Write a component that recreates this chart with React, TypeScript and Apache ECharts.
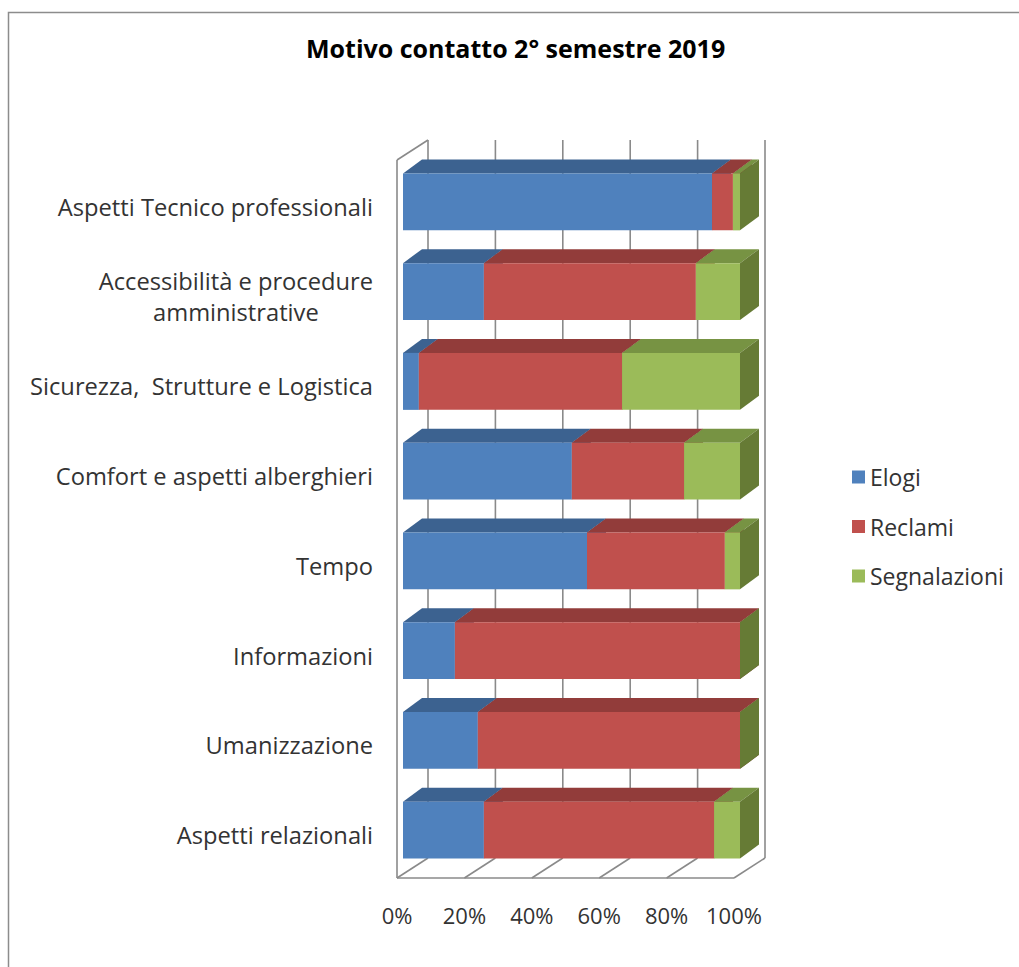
import React, { useEffect, useRef } from "react";
import * as echarts from "echarts";

const categories = [
  "Aspetti Tecnico professionali",
  "Accessibilità e procedure\namministrative",
  "Sicurezza,  Strutture e Logistica",
  "Comfort e aspetti alberghieri",
  "Tempo",
  "Informazioni",
  "Umanizzazione",
  "Aspetti relazionali",
];
const seriesNames = ["Elogi", "Reclami", "Segnalazioni"];
const elogi = [91.7, 24.0, 4.7, 50.1, 54.6, 15.4, 22.2, 24.0];
const reclami = [6.2, 62.9, 60.3, 33.3, 40.9, 84.6, 77.8, 68.3];
const segnalazioni = [2.1, 13.1, 35.0, 16.6, 4.5, 0, 0, 7.7];
const xTicks = [0, 20, 40, 60, 80, 100];

const frontColors = ["#4F81BD", "#C0504D", "#9BBB59"];
const topColors = ["#3C6290", "#923C3A", "#779343"];
const sideColors = ["#385B86", "#883735", "#667B35"];

const FONT = "'Open Sans', 'Noto Sans', sans-serif";
const TEXT_COLOR = "#333333";
const GRID_COLOR = "#8a8a8a";
const BAR_DX = 19;
const BAR_DY = -14;

export default function App() {
  const ref = useRef<HTMLDivElement>(null);

  useEffect(() => {
    document.body.style.margin = "0";
    const chart = echarts.init(ref.current!, null, { renderer: "svg" });

    const layers = [elogi, reclami, segnalazioni];
    const cum = categories.map(() => 0);
    const barSeries = layers.map((vals, si) => {
      const data = vals.map((v, ci) => {
        const s = cum[ci];
        cum[ci] = s + v;
        return [s, s + v, ci];
      });
      return {
        name: seriesNames[si],
        type: "custom",
        itemStyle: { color: frontColors[si] },
        encode: { x: [0, 1], y: 2 },
        data,
        renderItem: (params: any, api: any) => {
          const start = api.value(0);
          const end = api.value(1);
          const cat = api.value(2);
          const p0 = api.coord([start, cat]);
          const p1 = api.coord([end, cat]);
          const band = api.size([0, 1])[1];
          const h = band * 0.635;
          const top = p0[1] - h / 2;
          const bot = p0[1] + h / 2;
          const x0 = p0[0];
          const x1 = p1[0];
          return {
            type: "group",
            children: [
              {
                type: "polygon",
                shape: {
                  points: [
                    [x0, top],
                    [x1, top],
                    [x1 + BAR_DX, top + BAR_DY],
                    [x0 + BAR_DX, top + BAR_DY],
                  ],
                },
                style: { fill: topColors[si] },
              },
              {
                type: "polygon",
                shape: {
                  points: [
                    [x1, top],
                    [x1 + BAR_DX, top + BAR_DY],
                    [x1 + BAR_DX, bot + BAR_DY],
                    [x1, bot],
                  ],
                },
                style: { fill: sideColors[si] },
              },
              {
                type: "rect",
                shape: { x: x0, y: top, width: x1 - x0, height: h },
                style: { fill: frontColors[si] },
              },
            ],
          };
        },
      };
    });

    const frameSeries = {
      name: "frame",
      type: "custom",
      silent: true,
      encode: { x: 0, y: 1 },
      data: xTicks.map((t) => [t, 0]),
      renderItem: (params: any, api: any) => {
        const v = api.value(0);
        const cs = params.coordSys;
        const x = api.coord([v, 0])[0];
        const floorY = cs.y + cs.height + 3;
        const backFloorY = floorY - 20;
        const backTopY = cs.y - 17;
        const style = { stroke: GRID_COLOR, lineWidth: 1.6, fill: "none" };
        const children: any[] = [
          { type: "line", shape: { x1: x + 25, y1: backTopY, x2: x + 25, y2: backFloorY }, style },
          { type: "line", shape: { x1: x - 6, y1: floorY, x2: x + 25, y2: backFloorY }, style },
        ];
        if (v === xTicks[0]) {
          const xEnd = api.coord([xTicks[xTicks.length - 1], 0])[0];
          children.push(
            { type: "line", shape: { x1: x - 6, y1: backTopY + 20, x2: x - 6, y2: floorY }, style },
            { type: "line", shape: { x1: x - 6, y1: backTopY + 20, x2: x + 25, y2: backTopY }, style },
            { type: "line", shape: { x1: x - 6, y1: floorY, x2: xEnd - 6, y2: floorY }, style }
          );
        }
        return { type: "group", children };
      },
    };

    const option: any = {
      animation: false,
      backgroundColor: "#ffffff",
      title: {
        text: "Motivo contatto 2° semestre 2019",
        left: 306,
        top: 30,
        padding: [5, 0, 5, 0],
        textStyle: { fontFamily: FONT, fontSize: 25, fontWeight: "bold", color: "#000000" },
      },
      legend: {
        data: seriesNames,
        orient: "vertical",
        left: 847,
        top: 460,
        icon: "rect",
        itemWidth: 13,
        itemHeight: 13,
        itemGap: 25.5,
        textStyle: {
          fontFamily: FONT,
          fontSize: 23,
          color: TEXT_COLOR,
          lineHeight: 24,
        },
      },
      graphic: [
        {
          type: "rect",
          shape: { x: 8.5, y: 12.5, width: 1100, height: 1100 },
          style: { fill: "none", stroke: "#8c8c8c", lineWidth: 1.5 },
          silent: true,
        },
      ],
      grid: { left: 403, right: 279, top: 157, bottom: 92 },
      xAxis: {
        type: "value",
        min: 0,
        max: 100,
        interval: 20,
        axisLine: { show: false },
        axisTick: { show: false },
        splitLine: { show: false },
        axisLabel: {
          formatter: "{value}%",
          fontFamily: FONT,
          fontSize: 22,
          color: TEXT_COLOR,
          margin: 29,
          padding: [0, 12, 0, 0],
        },
      },
      yAxis: {
        type: "category",
        inverse: true,
        data: categories,
        axisLine: { show: false },
        axisTick: { show: false },
        splitLine: { show: false },
        axisLabel: {
          margin: 30,
          fontFamily: FONT,
          fontSize: 23.7,
          color: TEXT_COLOR,
          padding: [10, 0, 0, 0],
          formatter: (val: string) =>
            val.includes("\n")
              ? val
                  .split("\n")
                  .map((l) => `{c|${l}}`)
                  .join("\n")
              : val,
          rich: {
            c: {
              align: "center",
              fontFamily: FONT,
              fontSize: 23.7,
              color: TEXT_COLOR,
              lineHeight: 31,
            },
          },
        },
      },
      series: [frameSeries, ...barSeries],
    };

    chart.setOption(option);
    return () => chart.dispose();
  }, []);

  return <div ref={ref} style={{ width: 1019, height: 967 }} />;
}
